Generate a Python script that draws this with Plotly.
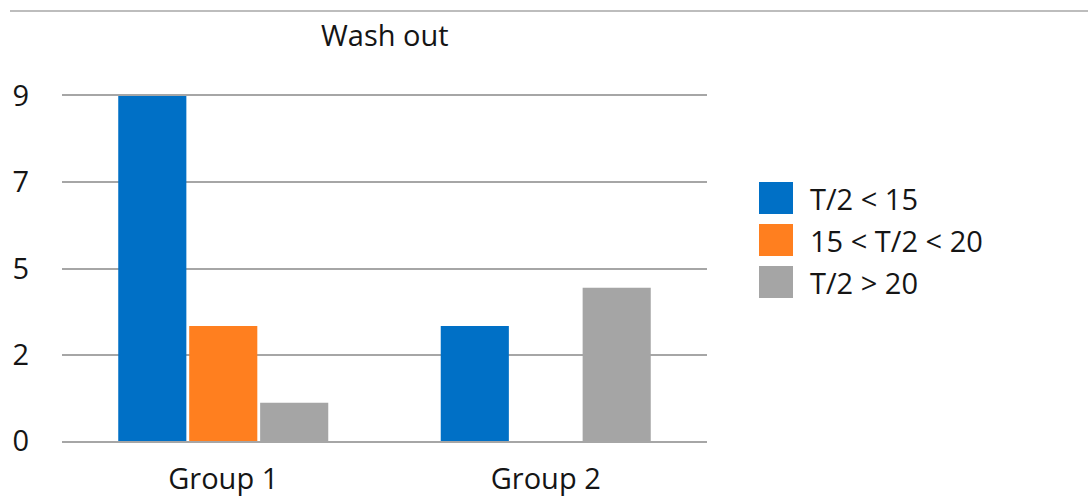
import plotly.graph_objects as go

# Chart data
groups = ["Group 1", "Group 2"]
series_names = ["T/2 < 15", "15 < T/2 < 20", "T/2 > 20"]
series_values = [
    [9, 3],   # T/2 < 15
    [3, 0],   # 15 < T/2 < 20
    [1, 4],   # T/2 > 20
]
series_colors = ["#0070C6", "#FF7F1F", "#A5A5A5"]
y_tick_vals = [0, 2.25, 4.5, 6.75, 9]
y_tick_text = ["0", "2", "5", "7", "9"]
chart_title = "Wash out"

FONT = "Open Sans"
FS = 29
TEXT_COLOR = "#151515"
GRID = "#A6A6A6"

W, H = 1088, 498
L, R, T, B = 62, 381, 96, 57
plot_w = W - L - R
plot_h = H - T - B

fig = go.Figure()
for name, vals, color in zip(series_names, series_values, series_colors):
    fig.add_trace(go.Bar(
        x=groups, y=vals, name=name,
        marker=dict(color=color, line=dict(width=0)),
        showlegend=False,
    ))


def px_x(px):
    return (px - L) / plot_w


def px_y(py):
    return (H - B - py) / plot_h


shapes = [
    # thin rule across the top of the figure
    dict(type="line", xref="paper", yref="paper",
         x0=px_x(10), x1=px_x(1088), y0=px_y(11), y1=px_y(11),
         line=dict(color="#BDBDBD", width=2)),
]
annotations = [
    dict(text=chart_title, xref="paper", yref="paper", x=0.5, y=px_y(34),
         xanchor="center", yanchor="middle", showarrow=False,
         font=dict(family=FONT, size=FS, color=TEXT_COLOR)),
]

# custom legend with large swatches
leg_x0, sw_w, sw_h = 759, 34, 32
row_y = [198, 240, 282]
for name, color, cy in zip(series_names, series_colors, row_y):
    shapes.append(dict(type="rect", xref="paper", yref="paper",
                       x0=px_x(leg_x0), x1=px_x(leg_x0 + sw_w),
                       y0=px_y(cy + sw_h / 2), y1=px_y(cy - sw_h / 2),
                       fillcolor=color, line=dict(width=0)))
    annotations.append(dict(text=name, xref="paper", yref="paper",
                            x=px_x(808), y=px_y(cy), xanchor="left", yanchor="middle",
                            showarrow=False,
                            font=dict(family=FONT, size=FS, color=TEXT_COLOR)))

fig.update_layout(
    width=W, height=H,
    margin=dict(l=L, r=R, t=T, b=B, pad=0, autoexpand=False),
    paper_bgcolor="white", plot_bgcolor="white",
    barmode="group", bargap=0.34, bargroupgap=0.04,
    shapes=shapes, annotations=annotations,
    font=dict(family=FONT, size=FS, color=TEXT_COLOR),
)
# x-axis line mirrored to the top gives the gridlines at 0 and 9
fig.update_xaxes(
    automargin=False,
    showgrid=False, zeroline=False,
    showline=True, mirror=True, linecolor=GRID, linewidth=2,
    ticks="", ticklabelstandoff=11,
    tickfont=dict(family=FONT, size=FS, color=TEXT_COLOR),
)
fig.update_yaxes(
    automargin=False,
    range=[0, 9], tickvals=y_tick_vals, ticktext=y_tick_text,
    showgrid=True, gridcolor=GRID, gridwidth=2,
    zeroline=False, showline=False, ticks="", ticklabelstandoff=32,
    tickfont=dict(family=FONT, size=FS, color=TEXT_COLOR),
)

fig.write_html("out.html")
